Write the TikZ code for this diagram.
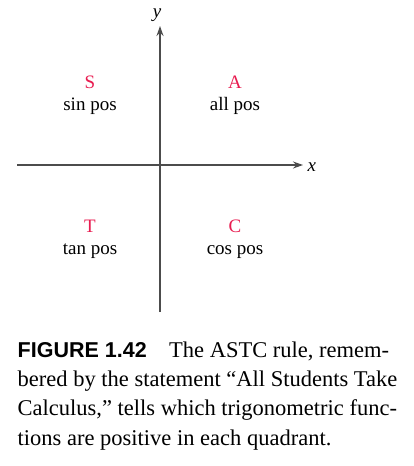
\documentclass[tikz,border=0pt]{standalone}
\usepackage{fontspec}
\setmainfont{Liberation Serif}
\newfontfamily\capsans{Liberation Sans}
\usepackage{tikz}
\usetikzlibrary{arrows.meta}
\definecolor{astcred}{RGB}{232,28,80}

\begin{document}
\begin{tikzpicture}[x=1pt, y=-1pt, line width=1.4pt,
  letter/.style={anchor=base, text=astcred, font=\fontsize{19}{19}\selectfont, inner sep=0pt},
  word/.style={anchor=base, font=\fontsize{19}{19}\selectfont, inner sep=0pt}]
  \useasboundingbox (0,0) rectangle (413,466);
  % axes
  \coordinate (xl) at (17,165);  \coordinate (xr) at (303,165);
  \coordinate (yb) at (160,312); \coordinate (yt) at (160,26);
  \draw[black!70, -{Stealth[length=10pt,width=7pt]}] (xl) -- (xr);
  \draw[black!70, -{Stealth[length=10pt,width=7pt]}] (yb) -- (yt);
  \node[anchor=base west, inner sep=0pt, font=\fontsize{19}{19}\selectfont\itshape] (xlab) at (307,171) {x};
  \node[anchor=base, inner sep=0pt, font=\fontsize{19}{19}\selectfont\itshape] (ylab) at (157,17) {y};
  % quadrant labels, ASTC
  \foreach \nm/\tx/\px/\py in {S/sin pos/90/88, A/all pos/235/88, T/tan pos/90/232, C/cos pos/235/232} {
    \node[letter] (q\nm) at (\px,\py) {\nm};
    \node[word] (w\nm) at (\px,\py+22) {\tx};
  }
  % caption (base = last line)
  \node[anchor=base west, align=left, inner sep=0pt, font=\fontsize{22.5}{29.3}\selectfont] (cap) at (17,445)
    {{\capsans\bfseries\fontsize{21.5}{29.3}\selectfont FIGURE 1.42}\quad The ASTC rule, remem-\\
     bered by the statement ``All Students Take\\
     Calculus,'' tells which trigonometric func-\\
     tions are positive in each quadrant.};
\end{tikzpicture}
\end{document}
